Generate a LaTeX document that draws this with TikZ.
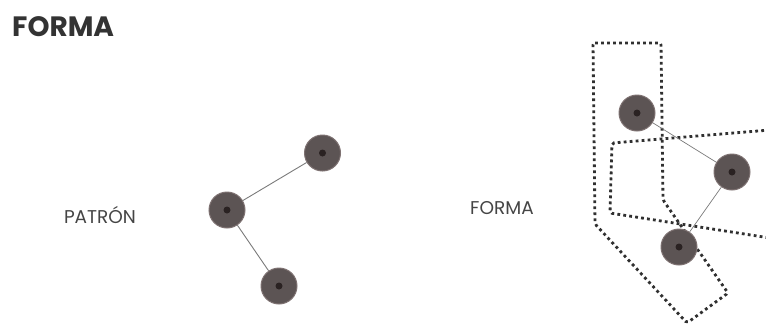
\documentclass[tikz,border=0pt]{standalone}
\usepackage{fontspec}
\setmainfont{Poppins}
\begin{document}
\begin{tikzpicture}[x=1pt,y=-1pt,
  ball/.style={circle,minimum size=36pt,inner sep=0pt,fill=ballfill,draw=ballrim,line width=1pt},
  link/.style={draw=linkgray,line width=0.9pt},
  dots/.style={draw=dotgray,line width=2.8pt,dash pattern=on 2.8pt off 3.2pt,rounded corners=2pt},
  label/.style={text=labelgray,font=\fontsize{18.5}{22}\selectfont,inner sep=0pt}]
\definecolor{ballfill}{HTML}{5C5454}
\definecolor{ballrim}{HTML}{7E7272}
\definecolor{ballcore}{HTML}{2A2222}
\definecolor{linkgray}{HTML}{7A7A7A}
\definecolor{dotgray}{HTML}{303030}
\definecolor{labelgray}{HTML}{454545}
\useasboundingbox (0,0) rectangle (766,325);
\clip (0,0) rectangle (766,325);
% title
\node[anchor=west,inner sep=0pt,text=black!80,font=\fontsize{28}{32}\bfseries] (title) at (12,27) {FORMA};
% left pattern
\node[label] (patron) at (100,215) {PATRÓN};
\node[ball] (p1) at (322.5,153) {};
\node[ball] (p2) at (227,210) {};
\node[ball] (p3) at (279,286) {};
\draw[link] (p2) -- (p1);
\draw[link] (p2) -- (p3);
\foreach \n in {p1,p2,p3}{\fill[ballcore] (\n) circle (3.5pt);}
% right form
\node[label] (forma) at (502,208) {FORMA};
\draw[dots] (593,43) -- (661,43) -- (663,200) -- (728,293) -- (687,323) -- (595,224) -- cycle;
\draw[dots] (770,130) -- (612,143) -- (610,213) -- (770,238);
\node[ball] (f1) at (637,113) {};
\node[ball] (f2) at (732,172) {};
\node[ball] (f3) at (679,247) {};
\draw[link,line width=0.7pt] (f1) -- (f2);
\draw[link,line width=0.7pt] (f2) -- (f3);
\foreach \n in {f1,f2,f3}{\fill[ballcore] (\n) circle (3.5pt);}
\end{tikzpicture}
\end{document}
